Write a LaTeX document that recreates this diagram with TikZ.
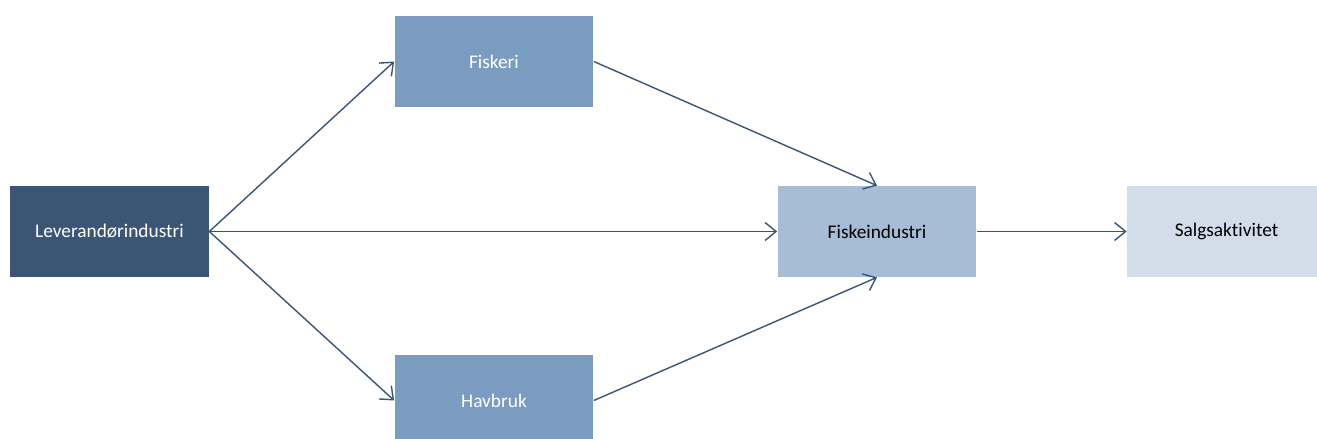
\documentclass[tikz,border=0pt]{standalone}
\usepackage{fontspec}
\setmainfont[Ligatures=NoCommon]{Carlito}
\usetikzlibrary{arrows.meta}
\definecolor{darkblue}{HTML}{3A5674}
\definecolor{midblue}{HTML}{7A9CC0}
\definecolor{lightblue}{HTML}{A7BCD5}
\definecolor{paleblue}{HTML}{D3DDE9}
\tikzset{
  box/.style={minimum width=3.98cm,minimum height=1.82cm,inner sep=0pt,
              font=\fontsize{11}{13}\selectfont},
  flow/.style={->,draw=darkblue,line width=0.8pt},
  >={Straight Barb[length=2.2mm,width=3.6mm]}
}
\begin{document}
\begin{tikzpicture}[x=0.02cm,y=-0.02cm]

%% page size, the last two boxes are cut by the edge
\useasboundingbox (0,0) rectangle (1317,439);

%% boxes
\node[box,fill=darkblue,text=white] (lev) at (109.5,231.5) {Leverandørindustri};
\node[box,fill=midblue,text=white] (fiskeri) at (494,61.5) {Fiskeri};
\node[box,fill=midblue,text=white] (havbruk) at (494,400.5) {Havbruk};
\node[box,fill=lightblue] (fiskeind) at (877,231.5) {Fiskeindustri};
\node[box,fill=paleblue] (salg) at (1226.5,231.5) {Salgsaktivitet};

%% connectors
\draw[flow] (lev.east) -- (fiskeri.west);
\draw[flow] (lev.east) -- (havbruk.west);
\draw[flow] (lev.east) -- (fiskeind.west);
\draw[flow] (fiskeri.east) -- (fiskeind.north);
\draw[flow] (havbruk.east) -- (fiskeind.south);
\draw[flow] (fiskeind.east) -- (salg.west);

\end{tikzpicture}
\end{document}
